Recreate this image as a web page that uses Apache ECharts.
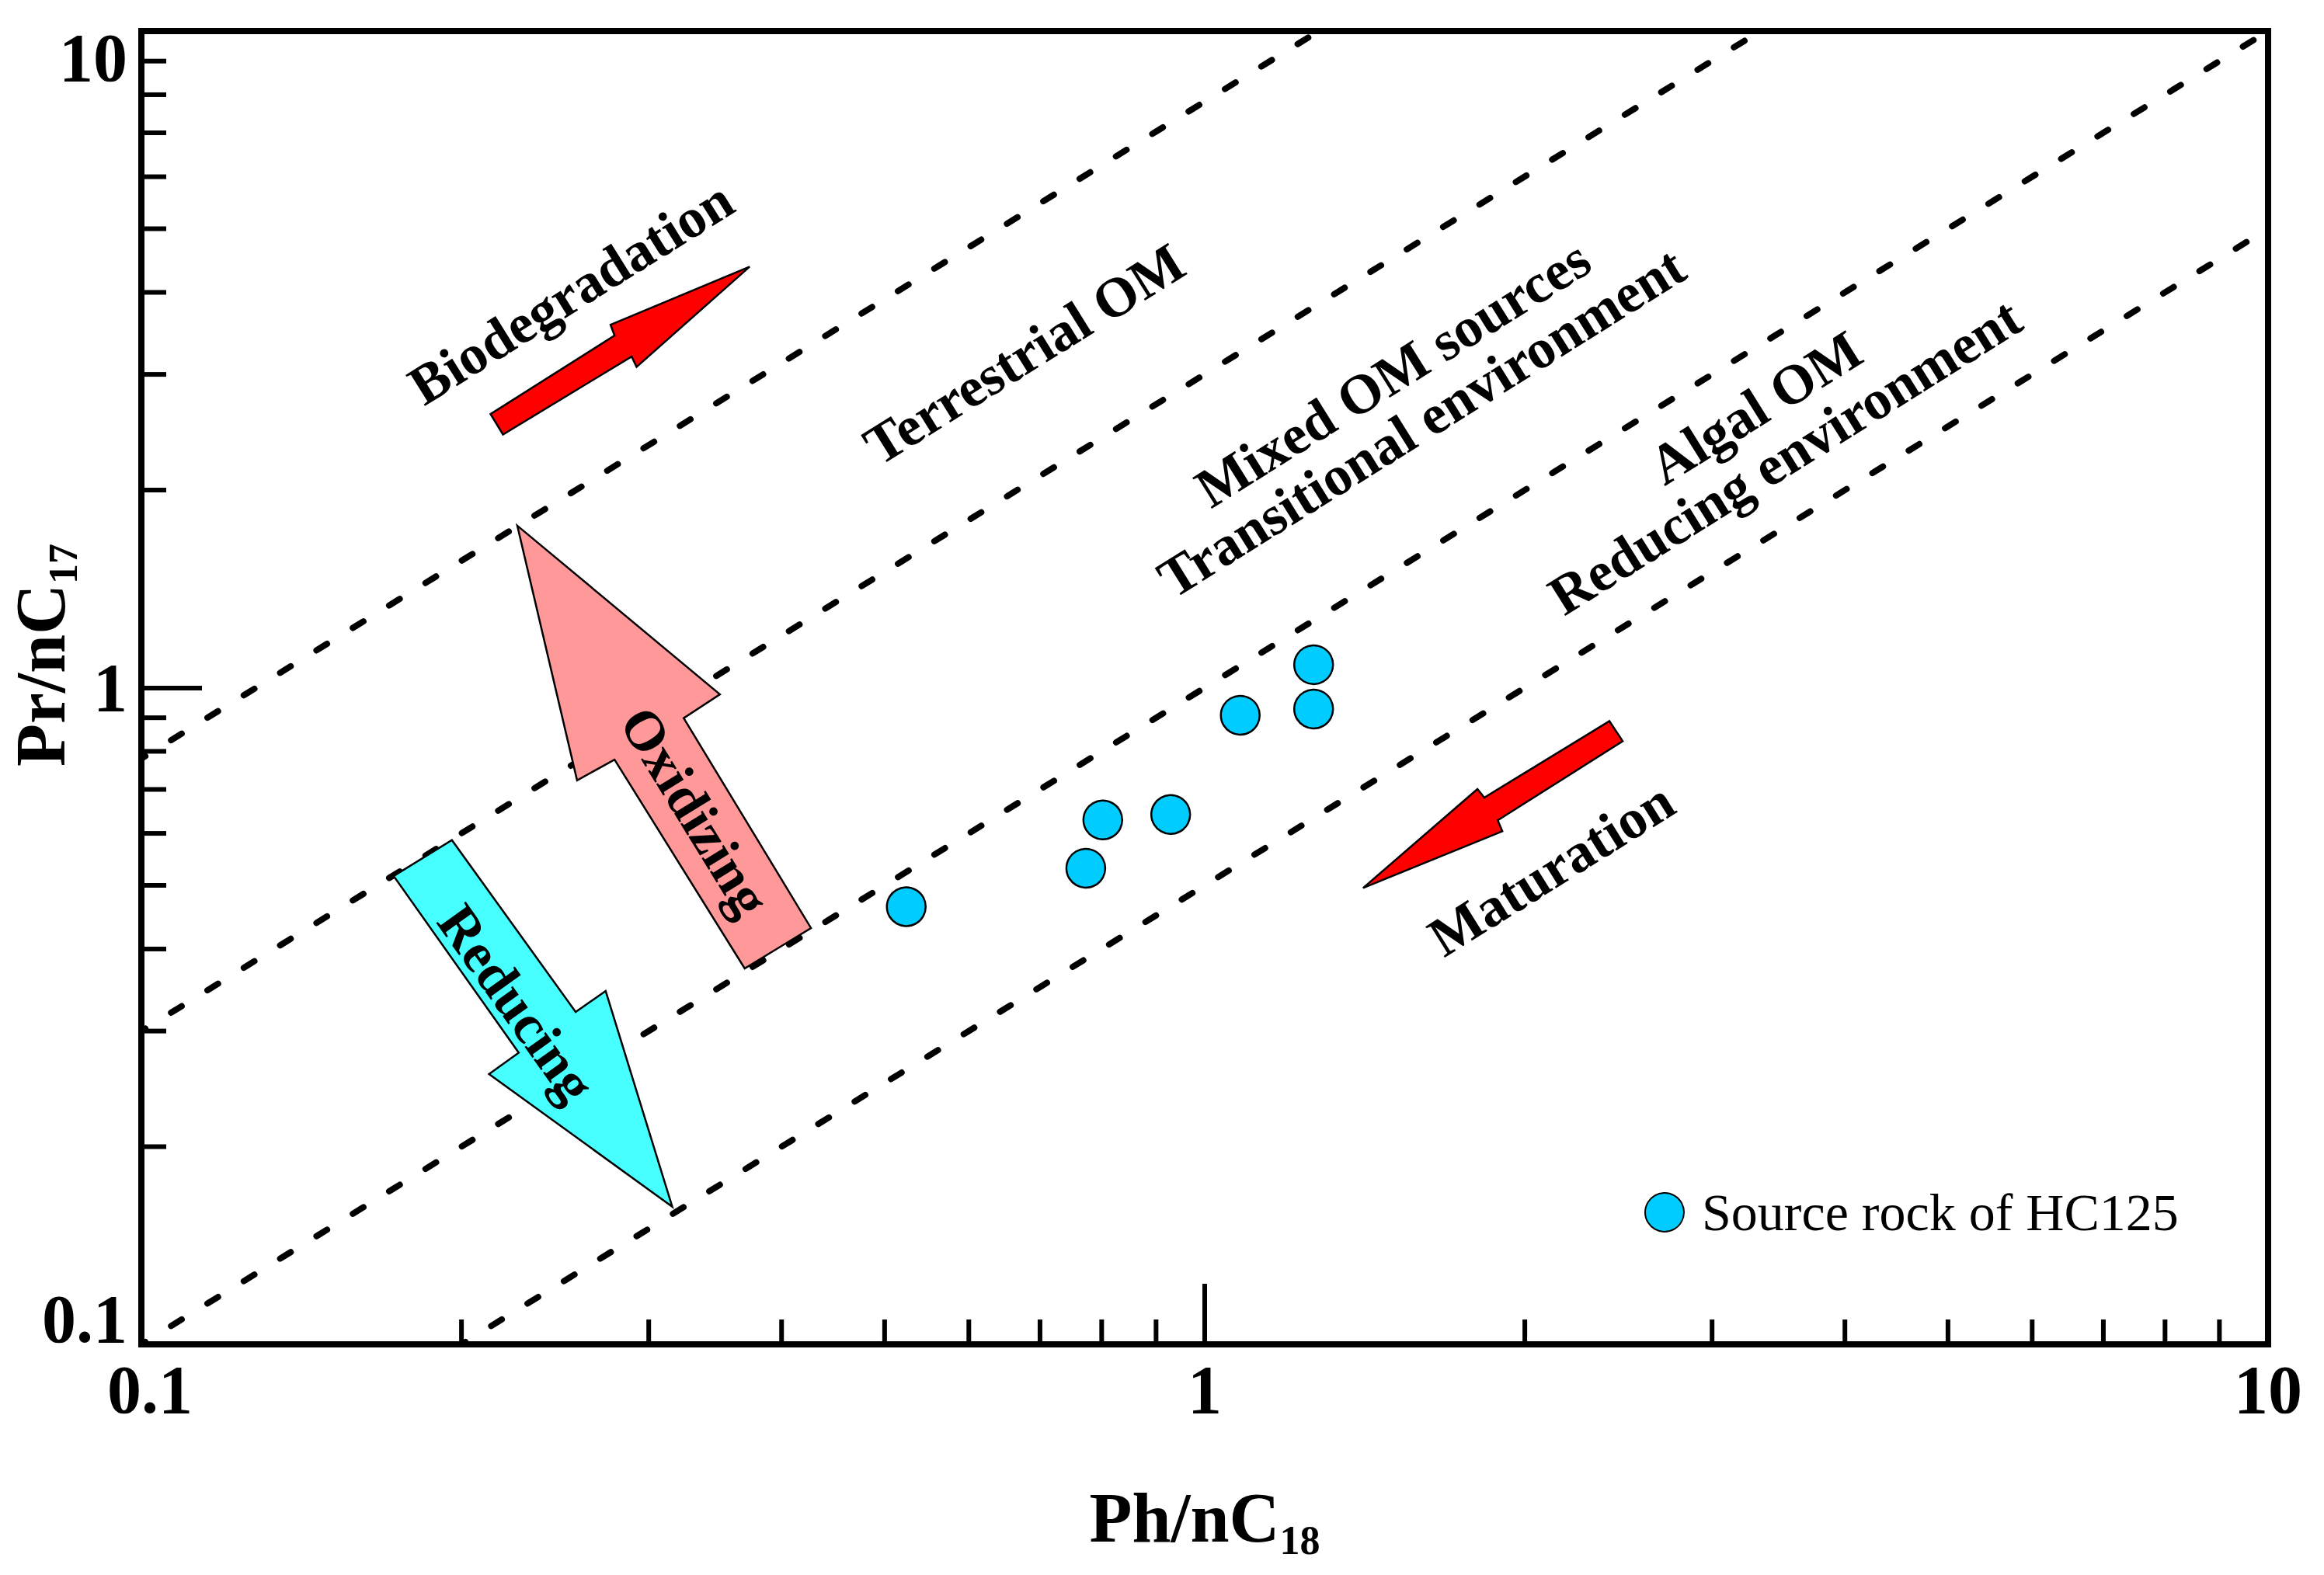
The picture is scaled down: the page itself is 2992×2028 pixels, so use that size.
<!DOCTYPE html>
<html><head><meta charset="utf-8">
<script src="https://cdn.jsdelivr.net/npm/echarts@6/dist/echarts.min.js"></script>
<style>html,body{margin:0;padding:0;background:#fff}#c{width:2992px;height:2028px}</style>
</head><body><div id="c"></div>
<script>
// ---- data ----
const seriesName = 'Source rock of HC125';
const phNC18 = [0.524, 0.773, 0.802, 0.929, 1.080, 1.266, 1.266];
const prNC17 = [0.464, 0.531, 0.629, 0.641, 0.908, 0.928, 1.084];

const xTickLabels = ['0.1', '1', '10'];
const yTickLabels = ['0.1', '1', '10'];
const xMinorTicks = [0.2,0.3,0.4,0.5,0.6,0.7,0.8,0.9,2,3,4,5,6,7,8,9];
const yMinorTicks = [0.2,0.3,0.4,0.5,0.6,0.7,0.8,0.9,2,3,4,5,6,7,8,9];

// dashed boundary lines (end points)
const lineTerrestrial = [[0.1, 0.78], [1.28, 10]];
const lineMixed       = [[0.1, 0.30], [3.33, 10]];
const lineAlgal       = [[0.1, 0.10], [10, 10]];
const lineLower       = [[0.2, 0.10], [10, 5.0]];

// arrow outlines (data space)
const arrowBiodegradation = [[0.2130,2.611],[0.2786,3.438],[0.2762,3.571],[0.3733,4.377],[0.2922,3.080],[0.2891,3.194],[0.2188,2.430]];
const arrowOxidizing = [[0.2257,1.765],[0.3500,0.977],[0.3236,0.899],[0.4263,0.4305],[0.3693,0.3736],[0.2786,0.7772],[0.2569,0.7224]];
const arrowReducing = [[0.1727,0.5166],[0.1959,0.5861],[0.2561,0.3208],[0.2733,0.3452],[0.3157,0.1620],[0.2123,0.2580],[0.2264,0.2780]];
const arrowMaturation = [[2.402,0.8894],[2.472,0.8291],[1.886,0.6281],[1.905,0.6045],[1.409,0.4955],[1.805,0.7010],[1.832,0.6803]];

// annotation texts and anchors (data space)
const noteTexts = ['Biodegradation','Terrestrial OM','Mixed OM sources','Transitional environment','Algal OM','Reducing environment','Maturation','Oxidizing','Reducing'];
const noteAnchors = [[0.2535,3.995],[0.6767,3.221],[1.503,3.009],[1.599,2.535],[3.296,2.670],[3.513,2.249],[2.118,0.5294],[0.3316,0.6475],[0.2253,0.3305]];

// ---- styles ----
const FONT = '"Liberation Serif","Times New Roman",Times,serif';
const noteAngles = [32,32,32,32,32,32,32,-58.4,-54.5];
const arrows = [arrowBiodegradation, arrowOxidizing, arrowReducing, arrowMaturation];
const arrowFills = ['#FF0000', '#FF9999', '#48FFFF', '#FF0000'];

const chart = echarts.init(document.getElementById('c'), null, {renderer: 'svg', width: 2992, height: 2028});

function near(a, b) { return Math.abs(a - b) < 1e-6 * Math.max(1, Math.abs(b)); }
function tickText(v, labels) {
  if (near(v, 0.1)) return labels[0];
  if (near(v, 1)) return labels[1];
  if (near(v, 10)) return labels[2];
  return '';
}
const lblBase = {fontFamily: FONT, fontSize: 88, fontWeight: 'bold', color: '#000'};
const nameRichX = {
  m: {fontFamily: FONT, fontSize: 90, fontWeight: 'bold', color: '#000', lineHeight: 100, verticalAlign: 'top'},
  s: {fontFamily: FONT, fontSize: 52, fontWeight: 'bold', color: '#000', lineHeight: 40, verticalAlign: 'bottom'}
};
const nameRichY = {
  m: {fontFamily: FONT, fontSize: 90, fontWeight: 'bold', color: '#000', lineHeight: 100, verticalAlign: 'top', padding: [0, 0, 0, 84]},
  s: {fontFamily: FONT, fontSize: 52, fontWeight: 'bold', color: '#000', lineHeight: 40, verticalAlign: 'bottom'}
};

function dashed(data) {
  return {
    type: 'line', data: data, symbol: 'none', silent: true, z: 2, animation: false,
    lineStyle: {color: '#000', width: 8, type: [16, 39], dashOffset: 10, cap: 'round'}
  };
}

const option = {
  backgroundColor: '#fff',
  animation: false,
  grid: {left: 182, right: 72, top: 40, bottom: 297, containLabel: false, outerBoundsMode: 'none',
         show: true, borderColor: '#000', borderWidth: 8, backgroundColor: 'transparent'},
  xAxis: {
    type: 'log', logBase: 10, min: 0.1, max: 10,
    name: '{m|Ph/nC}{s|18}', nameLocation: 'middle', nameGap: 178, nameMoveOverlap: false,
    nameTextStyle: {rich: nameRichX},
    axisLine: {show: true, lineStyle: {color: '#000', width: 8}},
    axisTick: {show: true, inside: true, length: 78, lineStyle: {color: '#000', width: 6}},
    axisLabel: {
      margin: 14, hideOverlap: false,
      formatter: v => { const t = tickText(v, xTickLabels); return near(v, 0.1) ? '{l|' + t + '}' : '{c|' + t + '}'; },
      rich: {l: Object.assign({padding: [0, 0, 0, 22]}, lblBase), c: Object.assign({}, lblBase)}
    },
    splitLine: {show: false}
  },
  yAxis: {
    type: 'log', logBase: 10, min: 0.1, max: 10,
    name: '{m|Pr/nC}{s|17}', nameLocation: 'middle', nameGap: 75, nameRotate: 90, nameMoveOverlap: false,
    nameTextStyle: {rich: nameRichY},
    axisLine: {show: true, lineStyle: {color: '#000', width: 8}},
    axisTick: {show: true, inside: true, length: 78, lineStyle: {color: '#000', width: 6}},
    axisLabel: {
      margin: 18, hideOverlap: false,
      formatter: v => {
        const t = tickText(v, yTickLabels);
        if (near(v, 10)) return '{t|' + t + '}';
        if (near(v, 0.1)) return '{b|' + t + '}';
        return '{c|' + t + '}';
      },
      rich: {
        t: Object.assign({padding: [68, 0, 0, 0]}, lblBase),
        b: Object.assign({padding: [0, 0, 66, 0]}, lblBase),
        c: Object.assign({}, lblBase)
      }
    },
    splitLine: {show: false}
  },
  legend: {
    show: true, data: [seriesName], left: 2112, top: 1522, orient: 'horizontal',
    itemWidth: 50, itemHeight: 50, icon: 'circle', selectedMode: false,
    textStyle: {fontFamily: FONT, fontSize: 68, color: '#000', padding: [0, 0, 0, 18]}
  },
  series: [
    dashed(lineTerrestrial), dashed(lineMixed), dashed(lineAlgal), dashed(lineLower),
    {
      type: 'custom', name: 'arrows', silent: true, z: 3, clip: false,
      data: arrows.map(a => [a[0][0], a[0][1]]),
      encode: {x: 0, y: 1},
      renderItem: (params, api) => {
        const pts = arrows[params.dataIndex].map(p => api.coord(p));
        return {type: 'polygon', shape: {points: pts}, style: {fill: arrowFills[params.dataIndex], stroke: '#000', lineWidth: 2.5}};
      }
    },
    {
      type: 'scatter', name: seriesName, z: 4,
      data: phNC18.map((x, i) => [x, prNC17[i]]),
      symbol: 'circle', symbolSize: 50,
      itemStyle: {color: '#00CCFF', borderColor: '#000', borderWidth: 2.5, opacity: 1}
    },
    {
      type: 'custom', name: 'notes', silent: true, z: 5, clip: false,
      data: noteAnchors.map(a => [a[0], a[1]]),
      encode: {x: 0, y: 1},
      renderItem: (params, api) => {
        const p = api.coord([api.value(0), api.value(1)]);
        return {
          type: 'text', x: p[0], y: p[1], rotation: noteAngles[params.dataIndex] * Math.PI / 180,
          style: {text: noteTexts[params.dataIndex], fontFamily: FONT, fontSize: 72, fontWeight: 'bold', fill: '#000', align: 'center', verticalAlign: 'middle'}
        };
      }
    },
    {
      type: 'custom', name: 'xminor', silent: true, z: 6, clip: false,
      data: xMinorTicks.map(v => [v, 0.1]),
      encode: {x: 0, y: 1},
      renderItem: (params, api) => {
        const p = api.coord([api.value(0), api.value(1)]);
        return {type: 'line', shape: {x1: p[0], y1: p[1], x2: p[0], y2: p[1] - 32}, style: {stroke: '#000', lineWidth: 6}};
      }
    },
    {
      type: 'custom', name: 'yminor', silent: true, z: 6, clip: false,
      data: yMinorTicks.map(v => [0.1, v]),
      encode: {x: 0, y: 1},
      renderItem: (params, api) => {
        const p = api.coord([api.value(0), api.value(1)]);
        return {type: 'line', shape: {x1: p[0], y1: p[1], x2: p[0] + 32, y2: p[1]}, style: {stroke: '#000', lineWidth: 6}};
      }
    }
  ]
};
chart.setOption(option);
</script>
</body></html>
